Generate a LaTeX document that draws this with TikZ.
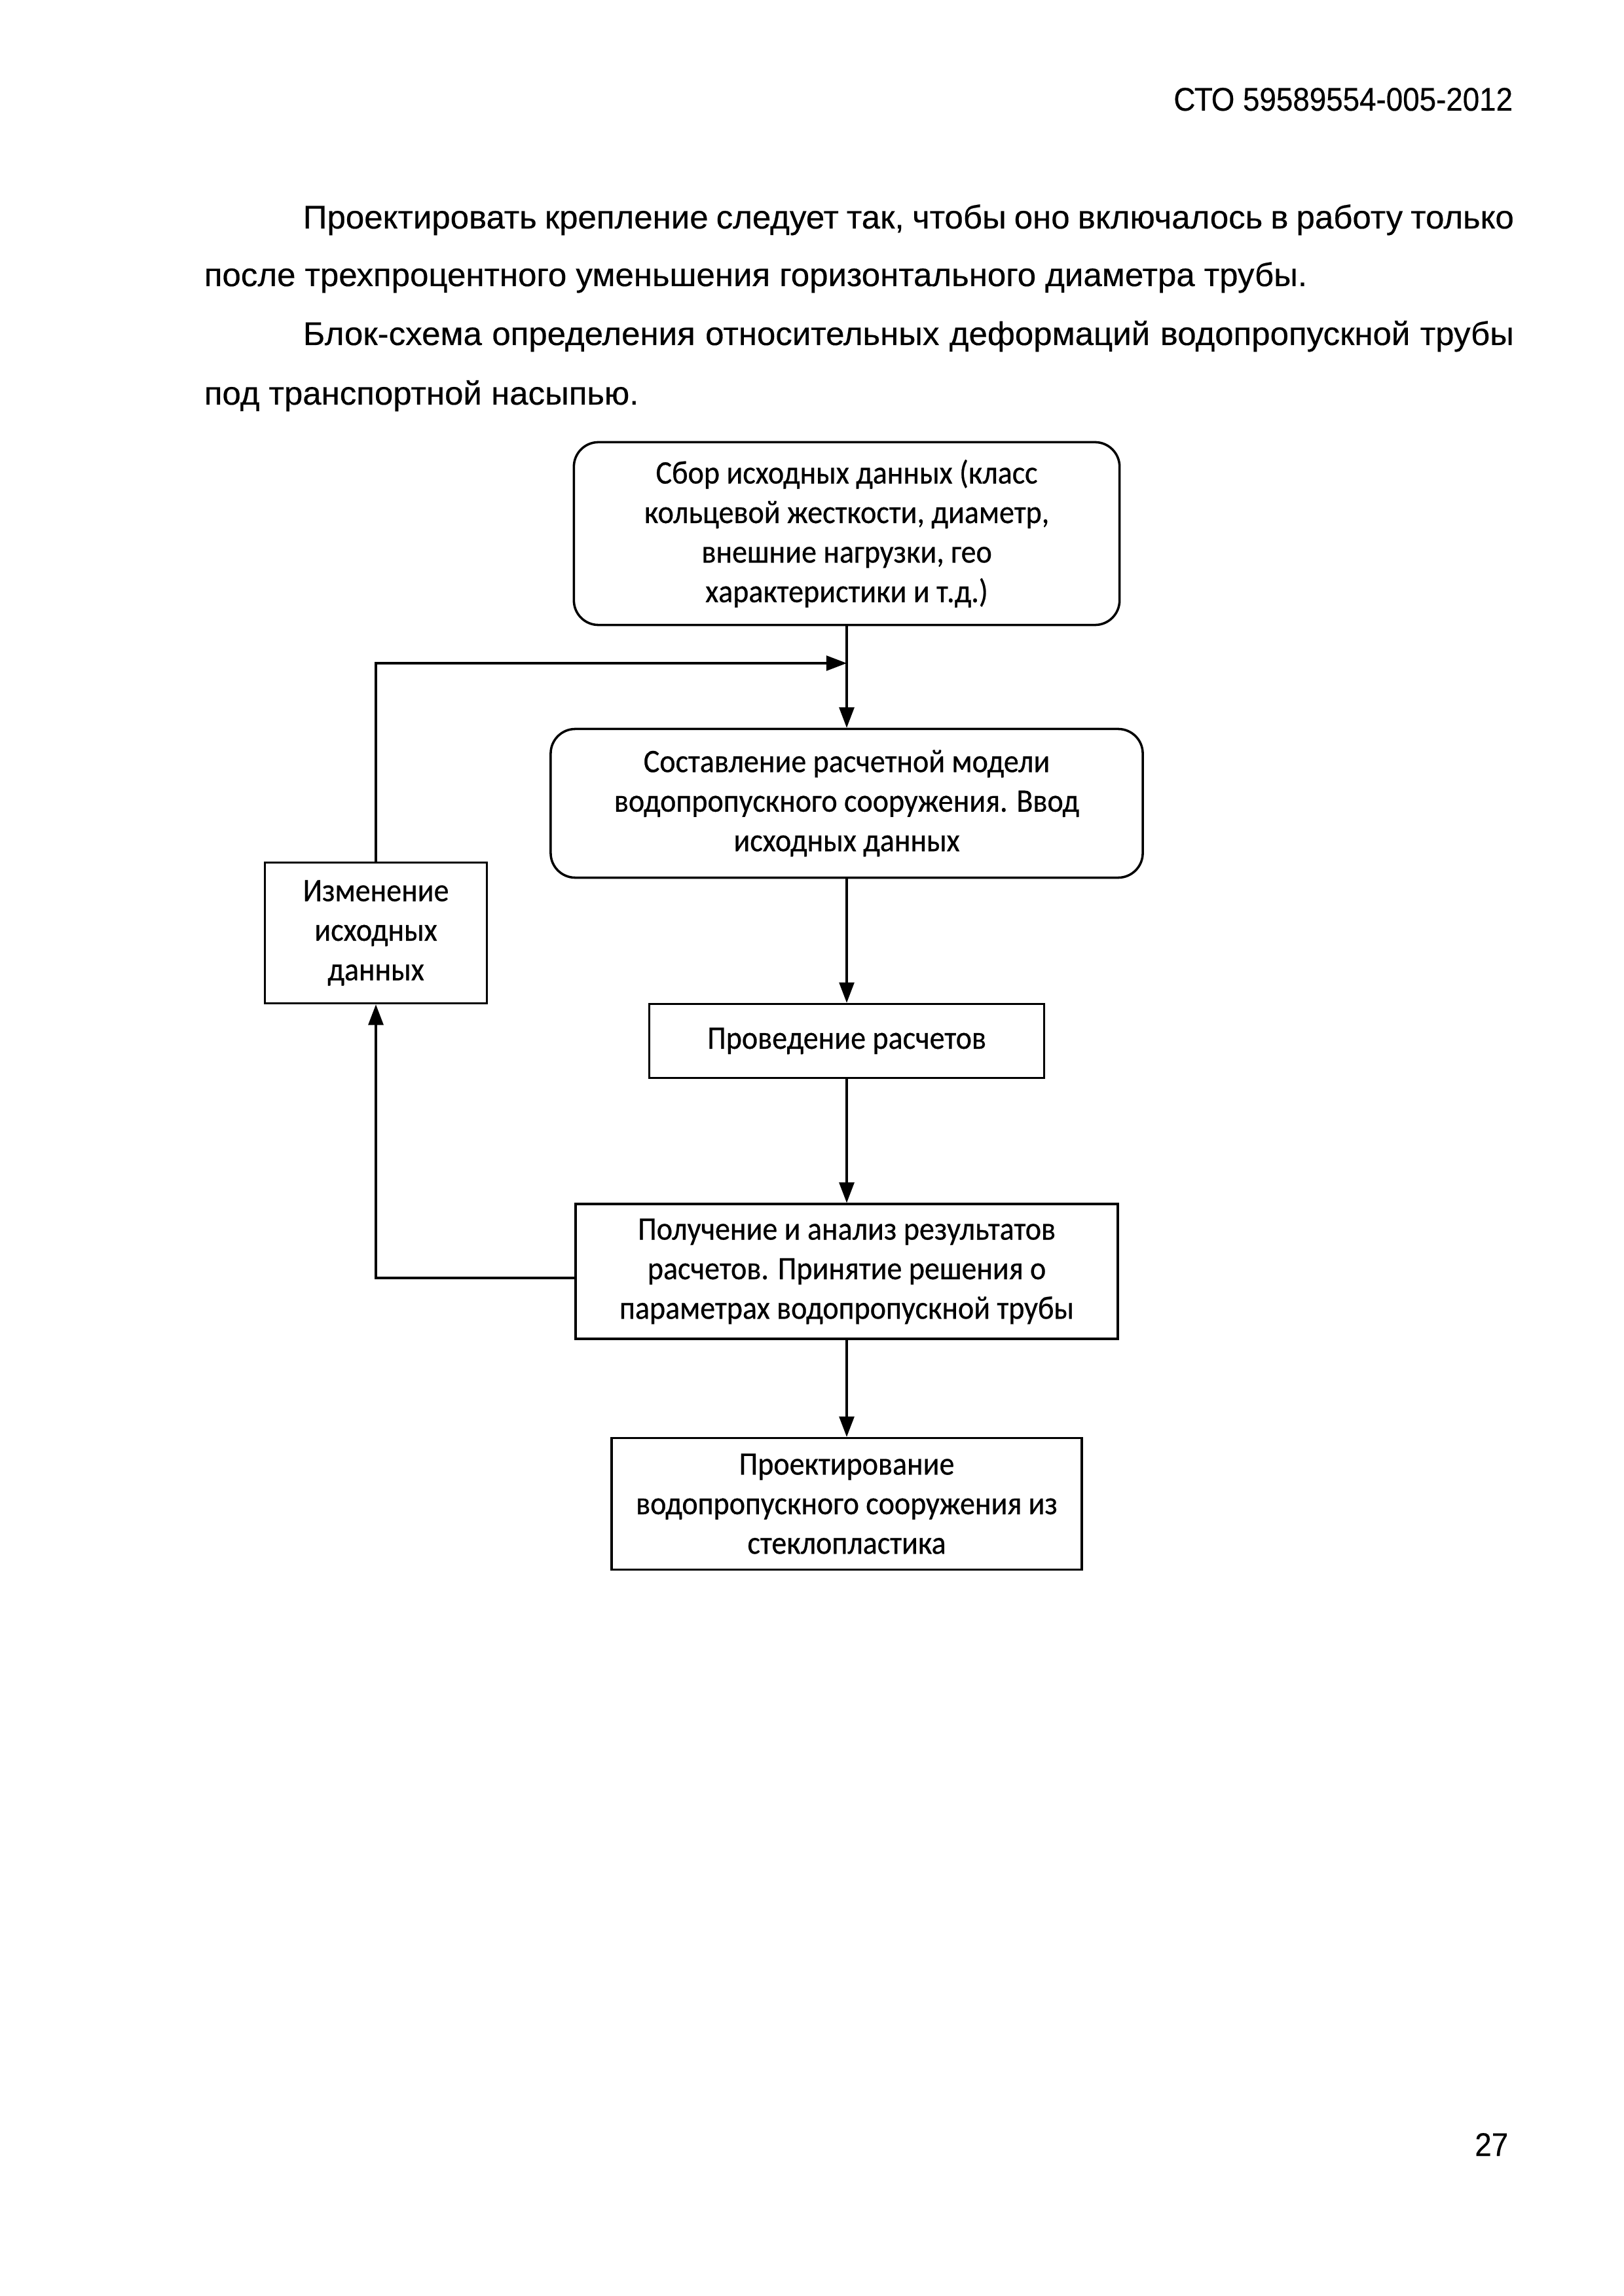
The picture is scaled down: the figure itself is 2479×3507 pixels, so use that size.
\documentclass[tikz,border=0pt]{standalone}
\usepackage{fontspec}
\usepackage{tikz}
\usetikzlibrary{arrows.meta}
\setmainfont{Liberation Sans}[FakeStretch=1.02, FakeBold=0.4]
\newfontfamily\headfamily{Liberation Sans}[FakeStretch=0.915, FakeBold=0.4]
\newfontfamily\flowfamily{Carlito}[FakeStretch=0.92, FakeBold=0.5]
\newcommand{\pagefont}{\fontsize{12}{21.5}\selectfont}
\newcommand{\headfont}{\headfamily\fontsize{12}{14}\selectfont}
\newcommand{\flowfont}{\flowfamily\fontsize{12}{14.5}\selectfont}
\tikzset{
  pagetext/.style={inner sep=0pt, font=\pagefont},
  headtext/.style={inner sep=0pt, font=\headfont},
  stage/.style={draw, line width=0.85pt, align=center, inner sep=2pt, font=\flowfont},
  stageround/.style={stage, rounded corners=9pt},
  flow/.style={-{Triangle[length=7.5pt, width=5.5pt]}, line width=0.75pt},
}

\begin{document}
\begin{tikzpicture}[x=0.24pt, y=-0.24pt]
    \useasboundingbox (0,0) rectangle (2479,3507);
    % page text
    \node[headtext, anchor=base east] (code) at (2311,169) {СТО 59589554-005-2012};
    \node[pagetext, anchor=base west] (p1a) at (462,349) {\makebox[443.8pt][s]{Проектировать крепление следует так, чтобы оно включалось в работу только}};
    \node[pagetext, anchor=base west] (p1b) at (311,437) {после трехпроцентного уменьшения горизонтального диаметра трубы.};
    \node[pagetext, anchor=base west] (p2a) at (462,527) {\makebox[443.8pt][s]{Блок-схема определения относительных деформаций водопропускной трубы}};
    \node[pagetext, anchor=base west] (p2b) at (311,618) {под транспортной насыпью.};
    \node[headtext, anchor=base east] (pnum) at (2304,3293) {27};

    % flowchart
    \node[stageround, minimum width=200pt, minimum height=67pt] (collect) at (1293,815)
        {Сбор исходных данных (класс\\кольцевой жесткости, диаметр,\\внешние нагрузки, гео\\характеристики и т.д.)};
    \node[stageround, minimum width=217pt, minimum height=54.5pt] (model) at (1293,1227)
        {Составление расчетной модели\\водопропускного сооружения. Ввод\\исходных данных};
    \node[stage, minimum width=81.4pt, minimum height=51.6pt] (change) at (574,1425)
        {Изменение\\исходных\\данных};
    \node[stage, minimum width=144.7pt, minimum height=27.1pt] (calc) at (1293,1590)
        {Проведение расчетов};
    \node[stage, minimum width=198.7pt, minimum height=49.4pt] (result) at (1293,1942)
        {Получение и анализ результатов\\расчетов. Принятие решения о\\параметрах водопропускной трубы};
    \node[stage, minimum width=172.3pt, minimum height=48.2pt] (design) at (1293,2297)
        {Проектирование\\водопропускного сооружения из\\стеклопластика};
    \coordinate (join) at (1293,1013);

    \draw[flow] (collect.south) -- (model.north);
    \draw[flow] (model.south) -- (calc.north);
    \draw[flow] (calc.south) -- (result.north);
    \draw[flow] (result.south) -- (design.north);
    % loop back
    \draw[flow] ([yshift=-2.4pt]result.west) -| (change.south);
    \draw[flow] (change.north) |- (join);
\end{tikzpicture}
\end{document}
